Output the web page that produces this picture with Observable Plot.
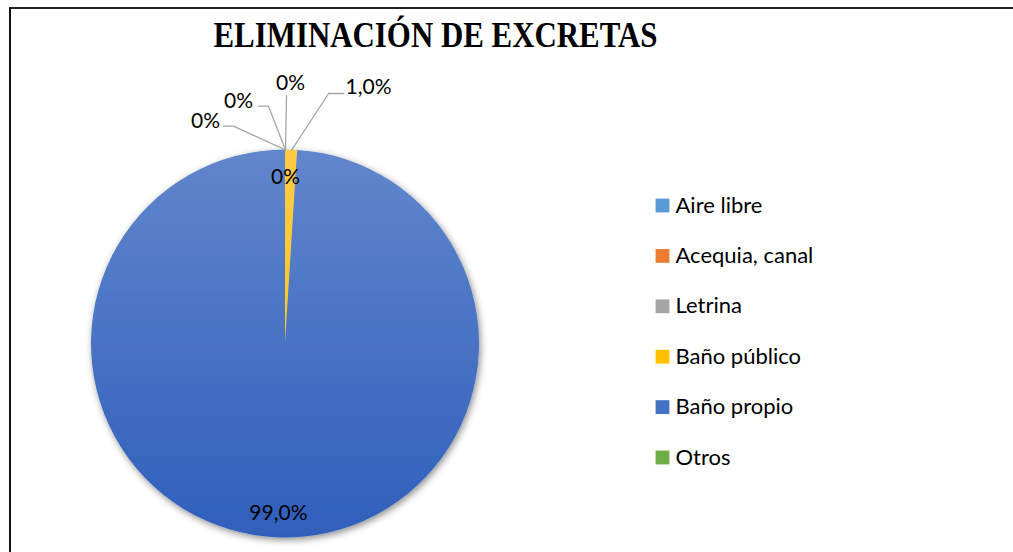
<!DOCTYPE html>
<html><head><meta charset="utf-8">
<script src="https://cdn.jsdelivr.net/npm/d3@7"></script>
<script src="https://cdn.jsdelivr.net/npm/@observablehq/plot@0.6"></script>
<style>
body{margin:0;background:#fff;}
#wrap{position:relative;width:1013px;height:552px;overflow:hidden;background:#fff;}
#wrap svg{position:absolute;left:0;top:0;}
#border{position:absolute;left:9px;top:7px;width:1100px;height:700px;border-left:2.5px solid #111;border-top:2.5px solid #222;pointer-events:none;}
</style></head><body><div id="wrap"><div id="border"></div></div>
<script>
// ---- data ----
const categories = ["Aire libre", "Acequia, canal", "Letrina", "Baño público", "Baño propio", "Otros"];
const values = [0, 0, 0, 1.0, 99.0, 0];
const valueLabels = ["0%", "0%", "0%", "1,0%", "99,0%", "0%"];
const title = "ELIMINACIÓN DE EXCRETAS";

// ---- styles ----
const colors = ["#5B9BD5", "#ED7D31", "#A5A5A5", "#FFC000", "#4472C4", "#70AD47"];
const gradTop = ["#76ABDC", "#F09257", "#B5B5B5", "#FFCB45", "#6186CC", "#86B964"];
const gradBottom = ["#4A8CCB", "#E46C1C", "#969696", "#FFC000", "#2F5FBB", "#62A03A"];

// ---- layout ----
const W = 1013, H = 552;
const CX = 285, CY = 343.5, R = 194;
const legendX = 662, legendTextX = 675, legendY0 = 205, legendStep = 50.4;
// label placement relative to each slice's arc midpoint
const labelLayout = [
  {dx: -80, dy: -28.5, path: [[-52, -23.8], [-62, -23.8]]},
  {dx: -47, dy: -48.5, path: [[-17, -43.8], [-27, -43.8]]},
  {dx: 5, dy: -66.5, path: [[1, -54.5]]},
  {dx: 77, dy: -62.6, path: [[37, -56.6], [52, -56.6]]},
  {dx: -1, dy: -24.4, path: null},
  {dx: 0, dy: 27.5, path: null}
];

const arcs = d3.pie().sort(null).value(d => d)(values);
const anchors = arcs.map(a => {
  const m = (a.startAngle + a.endAngle) / 2;
  return [CX + R * Math.sin(m), CY - R * Math.cos(m)];
});
const labelData = categories.map((c, i) => ({
  label: valueLabels[i],
  x: anchors[i][0] + labelLayout[i].dx,
  y: anchors[i][1] + labelLayout[i].dy
}));
const leaders = [];
categories.forEach((c, i) => {
  const p = labelLayout[i].path;
  if (!p) return;
  leaders.push({k: i, x: anchors[i][0], y: anchors[i][1]});
  p.forEach(([dx, dy]) => leaders.push({k: i, x: anchors[i][0] + dx, y: anchors[i][1] + dy}));
});
const legendData = categories.map((c, i) => ({name: c, color: colors[i], y: legendY0 + i * legendStep}));

function pieMark(index, scales, vals, dims, context) {
  const g = d3.create("svg:g");
  const defs = g.append("defs");
  const cx = scales.x(CX), cy = scales.y(CY);
  const f = defs.append("filter").attr("id", "pieShadow").attr("x", "-20%").attr("y", "-20%").attr("width", "140%").attr("height", "140%");
  f.append("feDropShadow").attr("dx", 1.5).attr("dy", 2.5).attr("stdDeviation", 3.5).attr("flood-color", "#000").attr("flood-opacity", 0.45);
  colors.forEach((c, i) => {
    const lg = defs.append("linearGradient").attr("id", "grad" + i)
      .attr("gradientUnits", "userSpaceOnUse").attr("x1", 0).attr("x2", 0)
      .attr("y1", -R).attr("y2", R);
    lg.append("stop").attr("offset", 0).attr("stop-color", gradTop[i]);
    lg.append("stop").attr("offset", 1).attr("stop-color", gradBottom[i]);
  });
  const arcGen = d3.arc().innerRadius(0).outerRadius(R);
  const pg = g.append("g").attr("filter", "url(#pieShadow)").attr("transform", `translate(${cx},${cy})`);
  arcs.forEach((a, i) => {
    if (a.endAngle - a.startAngle <= 0) return;
    pg.append("path").attr("d", arcGen(a)).attr("fill", `url(#grad${i})`);
  });
  return g.node();
}

const chart = Plot.plot({
  width: W, height: H, margin: 0,
  x: {domain: [0, W], range: [0, W], axis: null},
  y: {domain: [0, H], range: [0, H], axis: null},
  marks: [
    pieMark,
    Plot.line(leaders, {x: "x", y: "y", z: "k", stroke: "#A6A6A6", strokeWidth: 1.3}),
    Plot.text(labelData, {x: "x", y: "y", text: "label", fontSize: 21, fontFamily: "Lato", fill: "#000"}),
    Plot.dot(legendData, {x: () => legendX, y: "y", symbol: "square", r: 7.8, fill: "color", stroke: null}),
    Plot.text(legendData, {x: () => legendTextX, y: "y", text: "name", textAnchor: "start", fontSize: 22, fontFamily: "Lato", fill: "#000"}),
    Plot.text([title], {x: () => 435, y: () => 35.4, text: d => d, fontSize: 35, fontWeight: "bold", fontFamily: "Liberation Serif", fill: "#000", className: "ttl"})
  ],
  color: {type: "identity"}
});
document.getElementById("wrap").prepend(chart);
d3.select(chart).selectAll(".ttl text").attr("textLength", 444).attr("lengthAdjust", "spacingAndGlyphs");
</script>
</body></html>
